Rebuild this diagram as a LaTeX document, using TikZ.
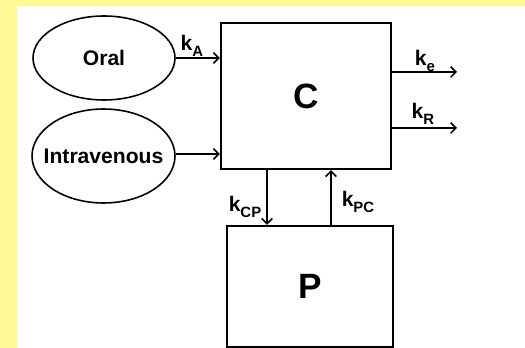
\documentclass[tikz,border=0pt]{standalone}
\usepackage{fontspec}
\setmainfont{Liberation Sans}
\usepackage{tikz}
\usetikzlibrary{shapes.geometric,arrows.meta}
\definecolor{pagebg}{RGB}{255,250,150}
\newcommand{\ratesub}[1]{\raisebox{-0.55ex}{\fontsize{8.5}{10}\selectfont #1}}
\tikzset{compartment/.style = {rectangle, draw=black, line width=1.4pt, inner sep=0pt, font=\fontsize{20}{24}\selectfont\bfseries}}
\tikzset{route/.style = {ellipse, draw=black, line width=0.9pt, inner sep=0pt, label={[font=\fontsize{12}{14}\selectfont\bfseries]center:#1}}}
\tikzset{rate/.style = {inner sep=0pt, font=\fontsize{12}{14}\selectfont\bfseries}}
\tikzset{flow/.style={line width=0.9pt,->,>={Straight Barb[length=3pt,width=6pt]}}}

\begin{document}
\begin{tikzpicture}[x=0.02cm,y=-0.02cm]
	\useasboundingbox (0,0) rectangle (525,348);
	\fill[pagebg] (0,0) rectangle (525,348);
	\fill[white] (17,6) rectangle (525,348);
	% compartments
	\node[compartment, minimum width=3.4cm, minimum height=2.92cm] (c) at (306,96) {C};
	\node[compartment, minimum width=3.32cm, minimum height=2.42cm] (p) at (310,286.5) {P};
	% dosing routes
	\node[route=Oral, minimum width=2.84cm, minimum height=1.68cm] (oral) at (104,58) {};
	\node[route=Intravenous, minimum width=2.86cm, minimum height=1.88cm] (iv) at (103.5,156) {};
	\coordinate (ke) at (457,72);
	\coordinate (kr) at (457,128);
	% transfers
	\draw[flow] (oral.east) -- (oral.east -| c.west);
	\draw[flow] (iv.east |- 0,154) -- (c.west |- 0,154);
	\draw[flow] (c.east |- ke) -- (ke);
	\draw[flow] (c.east |- kr) -- (kr);
	\draw[flow] (c.south -| 267,0) -- (p.north -| 267,0);
	\draw[flow] (p.north -| 331,0) -- (c.south -| 331,0);
	% rate constants
	\node[rate] (ka) at (192,46) {k\ratesub{A}};
	\node[rate] (kel) at (425,61) {k\ratesub{e}};
	\node[rate] (kre) at (423,114) {k\ratesub{R}};
	\node[rate] (kcp) at (245,207) {k\ratesub{CP}};
	\node[rate] (kpc) at (358,202) {k\ratesub{PC}};
\end{tikzpicture}
\end{document}
